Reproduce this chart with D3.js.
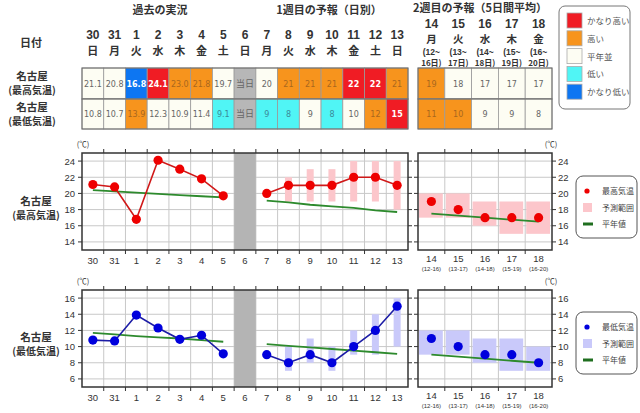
<!DOCTYPE html>
<html><head><meta charset="utf-8">
<script src="https://cdn.jsdelivr.net/npm/d3@7"></script>
<style>
html,body{margin:0;padding:0;background:#fff;}
svg{display:block;font-family:"Noto Sans CJK JP","Noto Sans",sans-serif;}
</style></head>
<body><svg id="c" width="640" height="413"></svg>
<script>
// ---------- data ----------
const dailyCats = ["30","31","1","2","3","4","5","6","7","8","9","10","11","12","13"];
const dailyWeekdays = ["日","月","火","水","木","金","土","日","月","火","水","木","金","土","日"];
const pastCats = ["30","31","1","2","3","4","5"];
const todayCat = "6";
const fcstCats = ["7","8","9","10","11","12","13"];
const weekCats = ["14","15","16","17","18"];
const weekWeekdays = ["月","火","水","木","金"];
const weekPeriodA = ["(12~","(13~","(14~","(15~","(16~"];
const weekPeriodB = ["16日)","17日)","18日)","19日)","20日)"];
const weekPeriodShort = ["(12-16)","(13-17)","(14-18)","(15-19)","(16-20)"];

// table
const maxTableText = ["21.1","20.8","16.8","24.1","23.0","21.8","19.7","当日","20","21","21","21","22","22","21"];
const maxTableClass = ["n","n","vl","vh","h","h","n","t","n","h","h","h","vh","vh","h"];
const minTableText = ["10.8","10.7","13.9","12.3","10.9","11.4","9.1","当日","9","8","9","8","10","12","15"];
const minTableClass = ["n","n","h","n","n","n","l","t","l","l","n","l","n","h","vh"];
const weekMaxText = ["19","18","17","17","17"];
const weekMaxClass = ["h","n","n","n","n"];
const weekMinText = ["11","10","9","9","8"];
const weekMinClass = ["h","h","n","n","n"];

// max temperature chart
const maxObs = [21.1,20.8,16.8,24.1,23.0,21.8,19.7];
const maxFcst = [20,21,21,21,22,22,21];
const maxFcstLo = [null,19,19,19,19,19,18];
const maxFcstHi = [null,22,23,23,24,24,24];
const maxNormPast = [20.4,20.25,20.1,19.95,19.8,19.65,19.5];
const maxNormFcst = [19.1,18.9,18.6,18.4,18.2,17.9,17.7];
const maxWeek = [19,18,17,17,17];
const maxWeekLo = [17,17,16,15,15];
const maxWeekHi = [20,20,19,19,19];
const maxWeekNorm = [17.5,17.25,17.0,16.75,16.5];
const maxTicks = [14,16,18,20,22,24];

// min temperature chart
const minObs = [10.8,10.7,13.9,12.3,10.9,11.4,9.1];
const minFcst = [9,8,9,8,10,12,15];
const minFcstLo = [null,7,8,7,9,9,10];
const minFcstHi = [null,10,11,10,12,14,16];
const minNormPast = [11.7,11.5,11.3,11.15,11.0,10.8,10.6];
const minNormFcst = [10.3,10.1,9.9,9.7,9.5,9.3,9.1];
const minWeek = [11,10,9,9,8];
const minWeekLo = [9,9,8,7,7];
const minWeekHi = [12,12,11,11,10];
const minWeekNorm = [9.0,8.75,8.5,8.25,8.0];
const minTicks = [6,8,10,12,14,16];

const legendCats = ["かなり高い","高い","平年並","低い","かなり低い"];
const legendClass = ["vh","h","n","l","vl"];

// ---------- styles ----------
const fillOf = {vh:"#f01c24", h:"#f7941d", n:"#fdfdf3", l:"#50f5f5", vl:"#0d76f2", t:"#b7b7b7"};
const textOf = {vh:"#ffffff", h:"#a9671e", n:"#666666", l:"#3b8a98", vl:"#ffffff", t:"#666666"};
const latin = "'Liberation Sans',Arial,sans-serif";

const svg = d3.select("#c");
const x = d3.scaleBand().domain(dailyCats).range([82,408]);
const xw = d3.scaleBand().domain(weekCats).range([418,552]);
const bw = x.bandwidth(), bww = xw.bandwidth();
const dark = "#333";

// ---------- header ----------
svg.append("text").attr("x",160).attr("y",14).attr("text-anchor","middle")
  .attr("font-size",11).attr("font-weight","bold").attr("fill",dark).text("過去の実況");
svg.append("text").attr("x",329).attr("y",14).attr("text-anchor","middle")
  .attr("font-size",11).attr("font-weight","bold").attr("fill",dark).text("1週目の予報（日別）");
svg.append("text").attr("x",480).attr("y",12).attr("text-anchor","middle")
  .attr("font-size",11).attr("font-weight","bold").attr("fill",dark).text("2週目の予報（5日間平均）");
svg.append("text").attr("x",31).attr("y",47).attr("text-anchor","middle")
  .attr("font-size",11).attr("font-weight","bold").attr("fill",dark).text("日付");

dailyCats.forEach((c,i)=>{
  svg.append("text").attr("x",x(c)+bw/2).attr("y",39).attr("text-anchor","middle")
    .attr("font-size",12).attr("font-family",latin).attr("font-weight","bold").attr("fill",dark).text(c);
  svg.append("text").attr("x",x(c)+bw/2).attr("y",55).attr("text-anchor","middle")
    .attr("font-size",11).attr("font-weight","bold").attr("fill",dark).text(dailyWeekdays[i]);
});
weekCats.forEach((c,i)=>{
  const cx = xw(c)+bww/2;
  svg.append("text").attr("x",cx).attr("y",28).attr("text-anchor","middle")
    .attr("font-size",12).attr("font-family",latin).attr("font-weight","bold").attr("fill",dark).text(c);
  svg.append("text").attr("x",cx).attr("y",43).attr("text-anchor","middle")
    .attr("font-size",10.5).attr("font-weight","bold").attr("fill",dark).text(weekWeekdays[i]);
  svg.append("text").attr("x",cx).attr("y",55).attr("text-anchor","middle")
    .attr("font-size",8.5).attr("font-family",latin).attr("font-weight","bold").attr("fill",dark).text(weekPeriodA[i]);
  svg.append("text").attr("x",cx).attr("y",66).attr("text-anchor","middle")
    .attr("font-size",8).attr("font-weight","bold").attr("fill",dark).text(weekPeriodB[i]);
});

// row labels
function rowLabel(y, kind){
  svg.append("text").attr("x",32).attr("y",y).attr("text-anchor","middle")
    .attr("font-size",10.5).attr("font-weight","bold").attr("fill",dark).text("名古屋");
  svg.append("text").attr("x",32).attr("y",y+14).attr("text-anchor","middle")
    .attr("font-size",10).attr("font-weight","bold").attr("fill",dark).text(kind);
}
rowLabel(80,"(最高気温)");
rowLabel(111,"(最低気温)");

// ---------- table ----------
function drawRow(scale, cats, texts, classes, y0, y1){
  const w = scale.bandwidth();
  cats.forEach((c,i)=>{
    const k = classes[i];
    svg.append("rect").attr("x",scale(c)).attr("y",y0).attr("width",w).attr("height",y1-y0)
      .attr("fill",fillOf[k]).attr("stroke","#9a9a9a").attr("stroke-width",0.8);
    const isT = k==="t";
    svg.append("text").attr("x",scale(c)+w/2).attr("y",(y0+y1)/2+3).attr("text-anchor","middle")
      .attr("font-size",isT?9:8).attr("font-family",isT?"'Noto Sans CJK JP',sans-serif":"'DejaVu Sans',Verdana,sans-serif")
      .attr("font-weight",(k==="vh"||k==="vl")?"bold":"normal")
      .attr("fill",textOf[k]).text(texts[i]);
  });
  svg.append("rect").attr("x",scale.range()[0]).attr("y",y0)
    .attr("width",scale.range()[1]-scale.range()[0]).attr("height",y1-y0)
    .attr("fill","none").attr("stroke","#6a6a6a").attr("stroke-width",1);
}
drawRow(x, dailyCats, maxTableText, maxTableClass, 68, 99);
drawRow(x, dailyCats, minTableText, minTableClass, 99, 129);
drawRow(xw, weekCats, weekMaxText, weekMaxClass, 68, 99);
drawRow(xw, weekCats, weekMinText, weekMinClass, 99, 129);

// category legend
svg.append("rect").attr("x",559).attr("y",6).attr("width",71).attr("height",103).attr("rx",6)
  .attr("fill","#fff").attr("stroke","#777").attr("stroke-width",1);
legendCats.forEach((t,i)=>{
  const yy = 13 + i*17.8;
  svg.append("rect").attr("x",567).attr("y",yy).attr("width",15).attr("height",15)
    .attr("fill",fillOf[legendClass[i]]).attr("stroke","#aaa").attr("stroke-width",0.8);
  svg.append("text").attr("x",587).attr("y",yy+11).attr("font-size",8.5).attr("fill","#555").text(t);
});

// ---------- charts ----------
function drawChart(o){
  const y = d3.scaleLinear().domain(o.domain).range([o.bottom,o.top]);
  const g = svg.append("g");
  g.append("text").attr("x",36).attr("y",o.labelY).attr("text-anchor","middle")
    .attr("font-size",10.5).attr("font-weight","bold").attr("fill",dark).text("名古屋");
  g.append("text").attr("x",36).attr("y",o.labelY+14).attr("text-anchor","middle")
    .attr("font-size",10).attr("font-weight","bold").attr("fill",dark).text(o.kind);

  const panels = [[x, dailyCats],[xw, weekCats]];
  panels.forEach(([sc,cats])=>{
    const [l,r] = sc.range();
    g.append("rect").attr("x",l).attr("y",o.top).attr("width",r-l).attr("height",o.bottom-o.top).attr("fill","#fff");
    o.ticks.forEach(t=>{
      g.append("line").attr("x1",l).attr("x2",r).attr("y1",y(t)).attr("y2",y(t))
        .attr("stroke","#c8c8c8").attr("stroke-width",1);
      g.append("line").attr("x1",l-4).attr("x2",l).attr("y1",y(t)).attr("y2",y(t)).attr("stroke",dark);
      g.append("line").attr("x1",r).attr("x2",r+4).attr("y1",y(t)).attr("y2",y(t)).attr("stroke",dark);
    });
    cats.slice(1).forEach(c=>{
      g.append("line").attr("x1",sc(c)).attr("x2",sc(c)).attr("y1",o.top).attr("y2",o.bottom)
        .attr("stroke","#c8c8c8").attr("stroke-width",1);
      g.append("line").attr("x1",sc(c)).attr("x2",sc(c)).attr("y1",o.bottom).attr("y2",o.bottom+4).attr("stroke",dark);
      g.append("line").attr("x1",sc(c)).attr("x2",sc(c)).attr("y1",o.top-4).attr("y2",o.top).attr("stroke",dark);
    });
  });
  g.append("rect").attr("x",x(todayCat)).attr("y",o.top).attr("width",bw).attr("height",o.bottom-o.top)
    .attr("fill","#b4b4b4");

  fcstCats.forEach((c,i)=>{
    if(o.lo[i]==null) return;
    g.append("rect").attr("x",x(c)+bw/2-3.5).attr("width",7)
      .attr("y",y(o.hi[i])).attr("height",y(o.lo[i])-y(o.hi[i])).attr("fill",o.rangeColor);
  });
  weekCats.forEach((c,i)=>{
    g.append("rect").attr("x",xw(c)+1).attr("width",bww-3)
      .attr("y",y(o.weekHi[i])).attr("height",y(o.weekLo[i])-y(o.weekHi[i])).attr("fill",o.rangeColor);
  });

  const ln = (sc)=>d3.line().x(d=>sc(d[0])+sc.bandwidth()/2).y(d=>y(d[1]));
  const nStyle = p=>p.attr("fill","none").attr("stroke","#2d8a2d").attr("stroke-width",1.8);
  nStyle(g.append("path").attr("d",ln(x)(pastCats.map((c,i)=>[c,o.normPast[i]]))));
  nStyle(g.append("path").attr("d",ln(x)(fcstCats.map((c,i)=>[c,o.normFcst[i]]))));
  nStyle(g.append("path").attr("d",ln(xw)(weekCats.map((c,i)=>[c,o.weekNorm[i]]))));

  const lStyle = p=>p.attr("fill","none").attr("stroke",o.lineColor).attr("stroke-width",1.6);
  lStyle(g.append("path").attr("d",ln(x)(pastCats.map((c,i)=>[c,o.obs[i]]))));
  lStyle(g.append("path").attr("d",ln(x)(fcstCats.map((c,i)=>[c,o.fcst[i]]))));
  const dot = (cx,cy)=>g.append("circle").attr("cx",cx).attr("cy",cy).attr("r",4.6).attr("fill",o.dotColor);
  pastCats.forEach((c,i)=>dot(x(c)+bw/2, y(o.obs[i])));
  fcstCats.forEach((c,i)=>dot(x(c)+bw/2, y(o.fcst[i])));
  weekCats.forEach((c,i)=>dot(xw(c)+bww/2, y(o.week[i])));

  panels.forEach(([sc])=>{
    const [l,r] = sc.range();
    g.append("rect").attr("x",l).attr("y",o.top).attr("width",r-l).attr("height",o.bottom-o.top)
      .attr("fill","none").attr("stroke",dark).attr("stroke-width",1.5);
  });

  o.ticks.forEach(t=>{
    g.append("text").attr("x",75).attr("y",y(t)+3.5).attr("text-anchor","end")
      .attr("font-size",9.5).attr("font-family",latin).attr("fill",dark).text(t);
    g.append("text").attr("x",558).attr("y",y(t)+3.5).attr("text-anchor","start")
      .attr("font-size",9.5).attr("font-family",latin).attr("fill",dark).text(t);
  });
  g.append("text").attr("x",83).attr("y",o.top-6).attr("text-anchor","middle").attr("font-size",7.5).attr("fill",dark).text("(℃)");
  g.append("text").attr("x",551).attr("y",o.top-6).attr("text-anchor","middle").attr("font-size",7.5).attr("fill",dark).text("(℃)");

  dailyCats.forEach(c=>{
    g.append("text").attr("x",x(c)+bw/2).attr("y",o.bottom+14).attr("text-anchor","middle")
      .attr("font-size",9.5).attr("font-family",latin).attr("fill",dark).text(c);
  });
  weekCats.forEach((c,i)=>{
    g.append("text").attr("x",xw(c)+bww/2).attr("y",o.bottom+12).attr("text-anchor","middle")
      .attr("font-size",9.5).attr("font-family",latin).attr("fill",dark).text(c);
    g.append("text").attr("x",xw(c)+bww/2).attr("y",o.bottom+21).attr("text-anchor","middle")
      .attr("font-size",6).attr("font-family",latin).attr("fill",dark).text(weekPeriodShort[i]);
  });

  const lx = 576, ly = o.legendY;
  g.append("rect").attr("x",lx).attr("y",ly).attr("width",61).attr("height",62).attr("rx",7)
    .attr("fill","#fff").attr("stroke","#555").attr("stroke-width",1);
  g.append("circle").attr("cx",lx+11).attr("cy",ly+15).attr("r",2.6).attr("fill",o.dotColor);
  g.append("text").attr("x",lx+26).attr("y",ly+18).attr("font-size",8).attr("fill","#444").text(o.legendName);
  g.append("rect").attr("x",lx+7).attr("y",ly+27).attr("width",9).attr("height",9).attr("fill",o.rangeColor);
  g.append("text").attr("x",lx+26).attr("y",ly+35).attr("font-size",8).attr("fill","#444").text("予測範囲");
  g.append("line").attr("x1",lx+7).attr("x2",lx+17).attr("y1",ly+48).attr("y2",ly+48)
    .attr("stroke","#1f6e1f").attr("stroke-width",3);
  g.append("text").attr("x",lx+26).attr("y",ly+51).attr("font-size",8).attr("fill","#444").text("平年値");
}

drawChart({domain:[13,25], top:153, bottom:250, ticks:maxTicks, kind:"(最高気温)", labelY:205,
  obs:maxObs, fcst:maxFcst, lo:maxFcstLo, hi:maxFcstHi, normPast:maxNormPast, normFcst:maxNormFcst,
  week:maxWeek, weekLo:maxWeekLo, weekHi:maxWeekHi, weekNorm:maxWeekNorm,
  dotColor:"#ee0000", lineColor:"#d01818", rangeColor:"#fcc6cb", legendName:"最高気温", legendY:176});

drawChart({domain:[5,17], top:290, bottom:387, ticks:minTicks, kind:"(最低気温)", labelY:341,
  obs:minObs, fcst:minFcst, lo:minFcstLo, hi:minFcstHi, normPast:minNormPast, normFcst:minNormFcst,
  week:minWeek, weekLo:minWeekLo, weekHi:minWeekHi, weekNorm:minWeekNorm,
  dotColor:"#0000dd", lineColor:"#1c1ca6", rangeColor:"#c9c9fa", legendName:"最低気温", legendY:312});
</script>
</body></html>
